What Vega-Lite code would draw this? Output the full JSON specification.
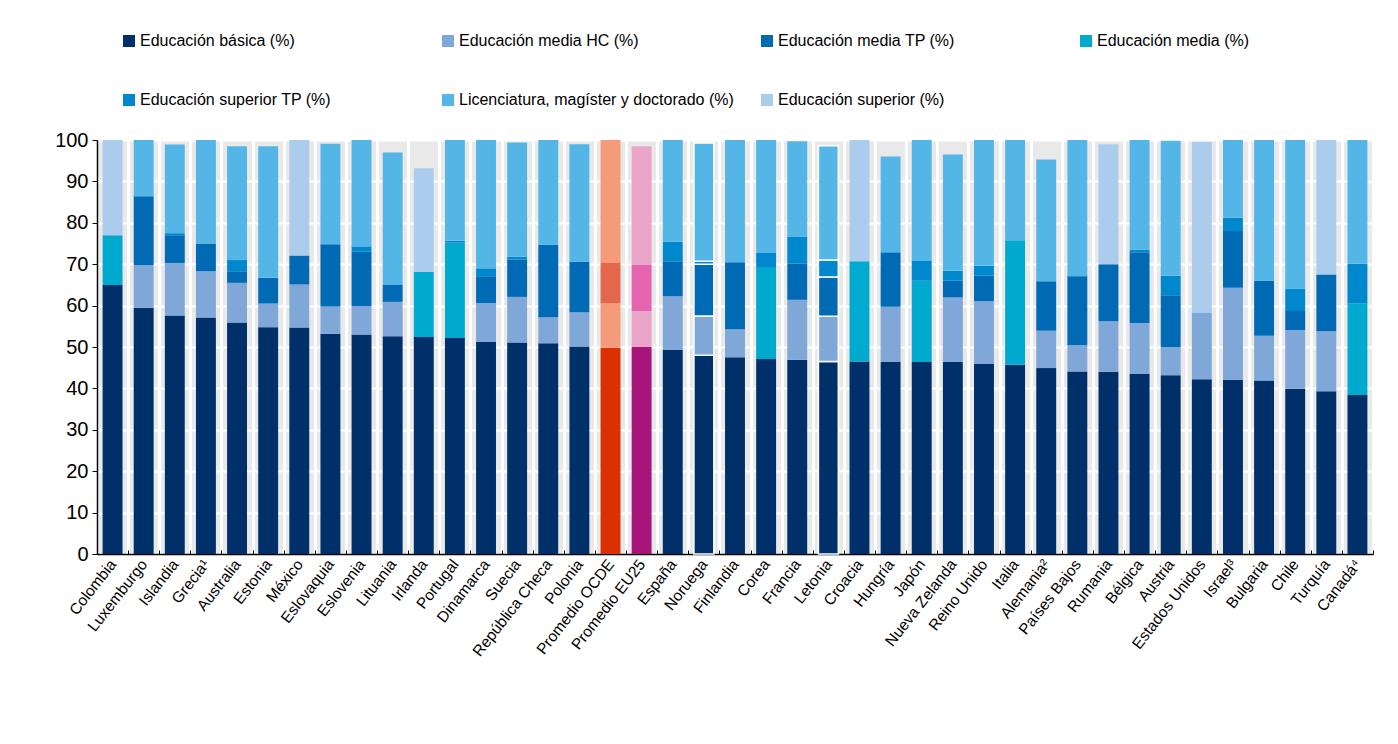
{
  "$schema": "https://vega.github.io/schema/vega-lite/v6.json",
  "autosize": {"type": "none"},
  "padding": {"left": 97, "top": 140, "right": 25, "bottom": 190},
  "width": 1276,
  "height": 414,
  "background": "white",
  "config": {
    "font": "Liberation Sans, Arial, sans-serif",
    "view": {"fill": "#E9E9E9", "stroke": null}
  },
  "datasets": {
    "niveles": [
      {"k": "b", "nivel": "Educación básica (%)", "orden": 1},
      {"k": "hc", "nivel": "Educación media HC (%)", "orden": 2},
      {"k": "tp", "nivel": "Educación media TP (%)", "orden": 3},
      {"k": "m", "nivel": "Educación media (%)", "orden": 4},
      {"k": "stp", "nivel": "Educación superior TP (%)", "orden": 5},
      {"k": "lic", "nivel": "Licenciatura, magíster y doctorado (%)", "orden": 6},
      {"k": "sup", "nivel": "Educación superior (%)", "orden": 7}
    ],
    "paises": [
      {"pais": "Colombia", "b": 65.0, "m": 12.0, "sup": 23.0},
      {"pais": "Luxemburgo", "b": 59.5, "hc": 10.3, "tp": 16.5, "stp": 0.3, "lic": 13.4},
      {"pais": "Islandia", "b": 57.6, "hc": 12.7, "tp": 6.7, "stp": 0.5, "lic": 21.4},
      {"pais": "Grecia¹", "b": 57.1, "hc": 11.2, "tp": 6.7, "lic": 25.0},
      {"pais": "Australia", "b": 55.9, "hc": 9.6, "tp": 2.8, "stp": 2.7, "lic": 27.5},
      {"pais": "Estonia", "b": 54.8, "hc": 5.7, "tp": 6.2, "lic": 31.8},
      {"pais": "México", "b": 54.7, "hc": 10.4, "tp": 7.0, "sup": 27.9},
      {"pais": "Eslovaquia", "b": 53.2, "hc": 6.6, "tp": 15.0, "lic": 24.3},
      {"pais": "Eslovenia", "b": 53.0, "hc": 6.9, "tp": 13.1, "stp": 1.3, "lic": 25.7},
      {"pais": "Lituania", "b": 52.6, "hc": 8.3, "tp": 4.1, "lic": 32.0},
      {"pais": "Irlanda", "b": 52.4, "m": 15.7, "sup": 25.1},
      {"pais": "Portugal", "b": 52.2, "m": 23.0, "stp": 0.5, "lic": 24.3},
      {"pais": "Dinamarca", "b": 51.2, "hc": 9.4, "tp": 6.5, "stp": 1.9, "lic": 31.0},
      {"pais": "Suecia", "b": 51.1, "hc": 11.0, "tp": 9.0, "stp": 0.7, "lic": 27.6},
      {"pais": "República Checa", "b": 50.9, "hc": 6.3, "tp": 17.5, "lic": 25.3},
      {"pais": "Polonia", "b": 50.1, "hc": 8.3, "tp": 12.2, "lic": 28.4},
      {"pais": "Promedio OCDE", "b": 49.8, "hc": 10.8, "tp": 9.7, "lic": 29.7},
      {"pais": "Promedio EU25", "b": 50.0, "hc": 8.7, "tp": 11.1, "lic": 28.7},
      {"pais": "España", "b": 49.3, "hc": 13.0, "tp": 8.4, "stp": 4.7, "lic": 24.6},
      {"pais": "Noruega", "b": 48.0, "hc": 9.5, "tp": 12.5, "stp": 0.7, "lic": 28.6},
      {"pais": "Finlandia", "b": 47.5, "hc": 6.8, "tp": 16.2, "lic": 29.5},
      {"pais": "Corea", "b": 47.1, "m": 22.2, "stp": 3.4, "lic": 27.3},
      {"pais": "Francia", "b": 46.9, "hc": 14.5, "tp": 8.8, "stp": 6.5, "lic": 23.0},
      {"pais": "Letonia", "b": 46.5, "hc": 10.9, "tp": 9.5, "stp": 4.1, "lic": 27.6},
      {"pais": "Croacia", "b": 46.5, "m": 24.2, "sup": 29.3},
      {"pais": "Hungría", "b": 46.4, "hc": 13.3, "tp": 13.0, "stp": 0.2, "lic": 23.1},
      {"pais": "Japón", "b": 46.4, "m": 19.6, "stp": 4.9, "lic": 29.1},
      {"pais": "Nueva Zelanda", "b": 46.4, "hc": 15.6, "tp": 4.0, "stp": 2.4, "lic": 28.1},
      {"pais": "Reino Unido", "b": 45.9, "hc": 15.2, "tp": 6.2, "stp": 2.3, "lic": 30.4},
      {"pais": "Italia", "b": 45.7, "m": 30.1, "lic": 24.2},
      {"pais": "Alemania²", "b": 44.9, "hc": 9.0, "tp": 12.0, "lic": 29.4},
      {"pais": "Países Bajos", "b": 44.1, "hc": 6.3, "tp": 16.6, "stp": 0.3, "lic": 32.7},
      {"pais": "Rumania", "b": 44.0, "hc": 12.2, "tp": 13.8, "sup": 29.0},
      {"pais": "Bélgica", "b": 43.5, "hc": 12.3, "tp": 17.1, "stp": 0.6, "lic": 26.5},
      {"pais": "Austria", "b": 43.2, "hc": 6.8, "tp": 12.5, "stp": 4.7, "lic": 32.6},
      {"pais": "Estados Unidos", "b": 42.2, "hc": 16.0, "sup": 41.4},
      {"pais": "Israel³", "b": 42.1, "hc": 22.2, "tp": 13.7, "stp": 3.2, "lic": 18.8},
      {"pais": "Bulgaria", "b": 41.9, "hc": 10.8, "tp": 13.3, "lic": 34.0},
      {"pais": "Chile", "b": 39.9, "hc": 14.2, "tp": 4.6, "stp": 5.4, "lic": 35.9},
      {"pais": "Turquía", "b": 39.3, "hc": 14.5, "tp": 13.7, "sup": 32.5},
      {"pais": "Canadá⁴", "b": 38.4, "m": 22.1, "stp": 9.6, "lic": 29.9}
    ]
  },
  "data": {"name": "paises"},
  "transform": [
    {"fold": ["b", "hc", "tp", "m", "stp", "lic", "sup"], "as": ["k", "valor"]},
    {"filter": "isValid(datum.valor)"},
    {"lookup": "k", "from": {"data": {"name": "niveles"}, "key": "k", "fields": ["nivel", "orden"]}}
  ],
  "mark": {"type": "bar", "width": {"band": 0.64}, "strokeWidth": 1.5},
  "encoding": {
    "x": {
      "field": "pais", "type": "nominal", "sort": null,
      "scale": {"paddingInner": 0, "paddingOuter": 0},
      "axis": {
        "title": null, "tickBand": "extent", "grid": true, "gridColor": "white", "gridWidth": 3,
        "domainColor": "black", "domainWidth": 1.5, "tickColor": "black", "tickSize": -4,
        "labelAngle": -52, "labelAlign": "right", "labelBaseline": "middle",
        "labelFontSize": 15.5, "labelColor": "black", "labelPadding": 11, "labelLimit": 300
      }
    },
    "y": {
      "field": "valor", "type": "quantitative", "stack": "zero",
      "scale": {"domain": [0, 100], "nice": false},
      "axis": {
        "title": null, "values": [0, 10, 20, 30, 40, 50, 60, 70, 80, 90, 100],
        "grid": true, "gridColor": "white", "gridWidth": 2,
        "domainColor": "black", "domainWidth": 1.5, "tickColor": "black", "tickSize": 5,
        "labelFontSize": 20, "labelColor": "black", "labelPadding": 4
      }
    },
    "order": {"field": "orden", "type": "quantitative", "sort": "ascending"},
    "color": {
      "field": "nivel", "type": "nominal",
      "scale": {
        "domain": ["Educación básica (%)", "Educación media HC (%)", "Educación media TP (%)", "Educación media (%)", "Educación superior TP (%)", "Licenciatura, magíster y doctorado (%)", "Educación superior (%)"],
        "range": ["#003069", "#7FA7D8", "#006AB5", "#00A9CE", "#0088CF", "#54B6E7", "#ABCCEC"]
      },
      "legend": {
        "title": null, "orient": "none", "legendX": 24, "legendY": -107, "direction": "horizontal",
        "columns": 4, "gridAlign": "all", "columnPadding": 25, "rowPadding": 43, "padding": 0,
        "symbolType": "square", "symbolSize": 144, "symbolStrokeWidth": 0, "labelOffset": 3,
        "labelFontSize": 16, "labelColor": "black", "labelLimit": 400
      },
      "condition": [
        {"test": "datum.pais === 'Promedio OCDE' && datum.k === 'b'", "value": "#DD3000"},
        {"test": "datum.pais === 'Promedio OCDE' && datum.k === 'tp'", "value": "#E4664C"},
        {"test": "datum.pais === 'Promedio OCDE'", "value": "#F59A7A"},
        {"test": "datum.pais === 'Promedio EU25' && datum.k === 'b'", "value": "#A8157A"},
        {"test": "datum.pais === 'Promedio EU25' && datum.k === 'tp'", "value": "#E563AF"},
        {"test": "datum.pais === 'Promedio EU25'", "value": "#EAA4C8"}
      ]
    },
    "stroke": {
      "condition": {"test": "datum.pais === 'Noruega' || datum.pais === 'Letonia'", "value": "white"},
      "value": null
    }
  }
}
